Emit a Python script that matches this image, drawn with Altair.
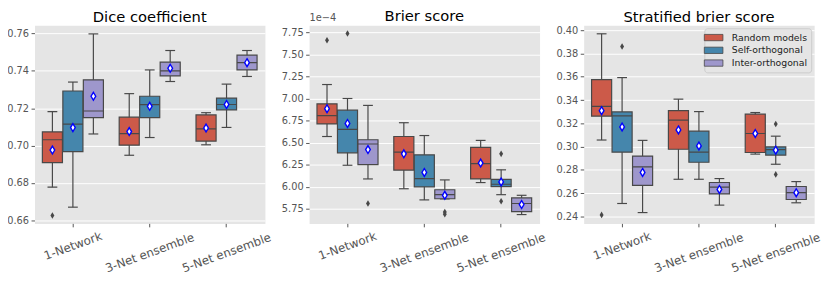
import altair as alt
import pandas as pd

groups = ["1-Network", "3-Net ensemble", "5-Net ensemble"]
hues = ["Random models", "Self-orthogonal", "Inter-orthogonal"]
colors = ["#CC5A49", "#4586AC", "#9E97CC"]

# box order: group-major, hue-minor
box_group = [g for g in groups for _ in hues]
box_hue = [h for _ in groups for h in hues]

dice_lo   = [0.6777, 0.6670, 0.7062, 0.6948, 0.7043, 0.7343, 0.7004, 0.7097, 0.7370]
dice_q1   = [0.6909, 0.6967, 0.7150, 0.7002, 0.7150, 0.7373, 0.7024, 0.7191, 0.7405]
dice_med  = [0.7031, 0.7115, 0.7185, 0.7064, 0.7219, 0.7400, 0.7089, 0.7220, 0.7444]
dice_q3   = [0.7073, 0.7292, 0.7352, 0.7152, 0.7264, 0.7447, 0.7164, 0.7254, 0.7484]
dice_hi   = [0.7182, 0.7340, 0.7598, 0.7278, 0.7405, 0.7509, 0.7176, 0.7329, 0.7509]
dice_mean = [0.6976, 0.7096, 0.7264, 0.7075, 0.7210, 0.7414, 0.7094, 0.7220, 0.7444]
dice_out_group = ["1-Network"]
dice_out_hue = ["Random models"]
dice_out_val = [0.6625]

brier_lo   = [6.570, 6.245, 6.090, 5.979, 5.853, 5.864, 6.049, 5.912, 5.687]
brier_q1   = [6.712, 6.385, 6.252, 6.190, 6.000, 5.866, 6.090, 6.004, 5.720]
brier_med  = [6.807, 6.650, 6.485, 6.393, 6.093, 5.912, 6.263, 6.030, 5.812]
brier_q3   = [6.940, 6.868, 6.533, 6.570, 6.363, 5.968, 6.448, 6.086, 5.875]
brier_hi   = [7.158, 7.000, 6.922, 6.726, 6.581, 6.079, 6.526, 6.193, 5.905]
brier_mean = [6.885, 6.718, 6.422, 6.374, 6.164, 5.905, 6.270, 6.056, 5.801]
brier_out_group = ["1-Network", "1-Network", "1-Network", "3-Net ensemble", "3-Net ensemble",
                   "5-Net ensemble", "5-Net ensemble"]
brier_out_hue = ["Random models", "Self-orthogonal", "Inter-orthogonal", "Inter-orthogonal",
                 "Inter-orthogonal", "Self-orthogonal", "Self-orthogonal"]
brier_out_val = [7.658, 7.735, 5.812, 5.716, 5.690, 6.374, 5.838]

sbs_lo   = [0.3057, 0.2512, 0.2434, 0.2720, 0.2720, 0.2498, 0.2936, 0.2849, 0.2518]
sbs_q1   = [0.3262, 0.2953, 0.2667, 0.2978, 0.2866, 0.2594, 0.2950, 0.2928, 0.2546]
sbs_med  = [0.3346, 0.3265, 0.2827, 0.3228, 0.2953, 0.2653, 0.3113, 0.2975, 0.2605]
sbs_q3   = [0.3576, 0.3298, 0.2919, 0.3309, 0.3133, 0.2692, 0.3279, 0.2998, 0.2658]
sbs_hi   = [0.3969, 0.3593, 0.3054, 0.3408, 0.3301, 0.2726, 0.3293, 0.3090, 0.2700]
sbs_mean = [0.3309, 0.3169, 0.2779, 0.3144, 0.3006, 0.2633, 0.3113, 0.2970, 0.2605]
sbs_out_group = ["1-Network", "1-Network", "5-Net ensemble", "5-Net ensemble"]
sbs_out_hue = ["Random models", "Self-orthogonal", "Self-orthogonal", "Self-orthogonal"]
sbs_out_val = [0.2414, 0.3860, 0.3194, 0.2762]

dice_ticks = [0.66, 0.68, 0.70, 0.72, 0.74, 0.76]
brier_ticks = [5.75, 6.00, 6.25, 6.50, 6.75, 7.00, 7.25, 7.50, 7.75]
sbs_ticks = [0.24, 0.26, 0.28, 0.30, 0.32, 0.34, 0.36, 0.38, 0.40]

GRAY = "#484848"
FONT = "DejaVu Sans"
DIAMOND = "M0,-1L0.6,0L0,1L-0.6,0Z"
RECT = "M-2,-0.68L2,-0.68L2,0.68L-2,0.68Z"
W, H = 235, 202


def panel(title, lo, q1, med, q3, hi, mean, og, oh, ov, domain, ticks, legend, ytitle="", toff=0):
    df = pd.DataFrame({"group": box_group, "hue": box_hue, "lo": lo, "q1": q1,
                       "med": med, "q3": q3, "hi": hi, "mean": mean})
    out = pd.DataFrame({"group": og, "hue": oh, "val": ov})
    xaxis = alt.Axis(title=None, labelAngle=-20, labelAlign="center", labelBaseline="middle",
                     labelFontSize=12,
                     labelPadding={"condition": {"test": "datum.value == '1-Network'", "value": 19},
                                   "value": 26},
                     grid=False)
    x = alt.X("group:N", scale=alt.Scale(domain=groups, paddingInner=0.2, paddingOuter=0.1), axis=xaxis)
    xo = alt.XOffset("hue:N", scale=alt.Scale(domain=hues, paddingInner=0.02, paddingOuter=0.01))
    ysc = alt.Scale(domain=domain, nice=False, zero=False)
    if ytitle:
        yaxis = alt.Axis(title=ytitle, values=ticks, format=".2f", titleAngle=0, titleAlign="left",
                         titleBaseline="bottom", titleX=0, titleY=-3, titleFontSize=10,
                         titleColor="#555555", titleFontWeight="normal", titleFont=FONT)
    else:
        yaxis = alt.Axis(title=None, values=ticks, format=".2f")

    base = alt.Chart(df).encode(x=x, xOffset=xo)
    whisk = base.mark_rule(color=GRAY, strokeWidth=1.2).encode(
        y=alt.Y("lo:Q", scale=ysc, axis=yaxis), y2="hi:Q")
    cap_lo = base.mark_tick(color=GRAY, thickness=1.2, size=10, orient="horizontal", opacity=1).encode(
        y=alt.Y("lo:Q", scale=ysc, axis=yaxis))
    cap_hi = base.mark_tick(color=GRAY, thickness=1.2, size=10, orient="horizontal", opacity=1).encode(
        y=alt.Y("hi:Q", scale=ysc, axis=yaxis))
    box = base.mark_bar(stroke=GRAY, strokeWidth=1.2, opacity=1).encode(
        y=alt.Y("q1:Q", scale=ysc, axis=yaxis), y2="q3:Q",
        color=alt.Color("hue:N", scale=alt.Scale(domain=hues, range=colors), legend=legend))
    medl = base.mark_bar(stroke=GRAY, strokeWidth=1.2, fillOpacity=0).encode(
        y=alt.Y("med:Q", scale=ysc, axis=yaxis), y2="med:Q")
    meanp = base.mark_point(shape=DIAMOND, filled=True, fill="white", stroke="#0000FF",
                            strokeWidth=1.4, size=64, opacity=1).encode(
        y=alt.Y("mean:Q", scale=ysc, axis=yaxis))
    outp = alt.Chart(out).mark_point(shape=DIAMOND, filled=True, color=GRAY, size=45, opacity=1).encode(
        x=x, xOffset=xo, y=alt.Y("val:Q", scale=ysc, axis=yaxis))
    return alt.layer(whisk, cap_lo, cap_hi, box, medl, outp, meanp).properties(
        width=W, height=H, title=alt.TitleParams(title, offset=toff))


leg = alt.Legend(title=None, orient="top-right", offset=3, symbolType=RECT, symbolSize=90,
                 symbolStrokeColor=GRAY, symbolStrokeWidth=0.8, symbolOpacity=1,
                 fillColor="#E5E5E5", strokeColor="#CCCCCC", padding=4, cornerRadius=3,
                 labelFontSize=9.5, labelColor="#222222", labelFont=FONT, labelOffset=13,
                 rowPadding=2)

p1 = panel("Dice coefficient", dice_lo, dice_q1, dice_med, dice_q3, dice_hi, dice_mean,
           dice_out_group, dice_out_hue, dice_out_val, [0.6583, 0.7644], dice_ticks, None)
p2 = panel("Brier score", brier_lo, brier_q1, brier_med, brier_q3, brier_hi, brier_mean,
           brier_out_group, brier_out_hue, brier_out_val, [5.587, 7.828], brier_ticks, None,
           ytitle="1e\u22124", toff=-12)
p3 = panel("Stratified brier score", sbs_lo, sbs_q1, sbs_med, sbs_q3, sbs_hi, sbs_mean,
           sbs_out_group, sbs_out_hue, sbs_out_val, [0.2341, 0.4042], sbs_ticks, leg)

chart = alt.hconcat(p1, p2, p3, spacing=8).resolve_scale(
    x="independent", y="independent", color="independent", xOffset="independent"
).resolve_legend(color="independent").properties(
    padding={"left": -2, "top": -2, "right": 0, "bottom": 0}
).configure_view(fill="#E5E5E5", stroke="transparent").configure_axis(
    labelFont=FONT, titleFont=FONT, domain=False, tickColor="#555555", labelColor="#555555",
    tickSize=3.5, tickWidth=1, labelFontSize=10, labelPadding=2.5, gridColor="white", gridWidth=1
).configure_title(font=FONT, fontSize=15, fontWeight="normal", color="black", offset=0)

chart.save("out.html", embed_options={"renderer": "svg", "actions": False})
